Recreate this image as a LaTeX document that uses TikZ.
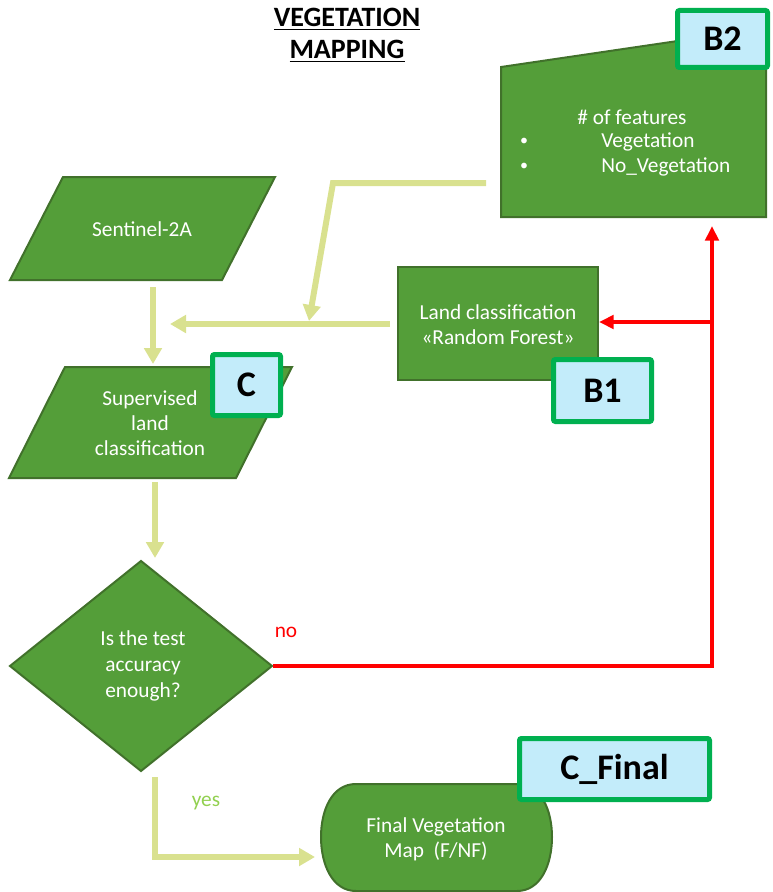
\documentclass[tikz,border=0pt]{standalone}
\usepackage{fontspec}
\setmainfont{Carlito}
\usetikzlibrary{arrows.meta}
\definecolor{boxgreen}{HTML}{549E39}
\definecolor{edgegreen}{HTML}{41712B}
\definecolor{lightline}{HTML}{D9E18F}
\definecolor{labblue}{HTML}{C3ECFA}
\definecolor{labedge}{HTML}{00B050}
\definecolor{yesgreen}{HTML}{92D050}
\begin{document}
\begin{tikzpicture}[x=0.75pt,y=-0.75pt,
  shapebox/.style={fill=boxgreen,draw=edgegreen,line width=1.5pt},
  wtext/.style={text=white,font=\fontsize{16}{18.75}\selectfont,align=center,inner sep=0pt},
  labbox/.style={draw=labedge,fill=labblue,line width=3.75pt,rounded corners=1.5pt,font=\fontsize{27}{30}\selectfont\bfseries,inner sep=0pt},
  lightarrow/.style={draw=lightline,line width=4.5pt,-{Triangle[length=12pt,width=13pt]}},
  redarrow/.style={draw=red,line width=3.2pt,-{Triangle[length=11pt,width=10pt]}}
]
\useasboundingbox (0,0) rectangle (773,892);

% title
\node[font=\fontsize{21}{24}\selectfont\bfseries,align=center,inner sep=0pt] (title) at (347,35) {\underline{VEGETATION}\\\underline{MAPPING}};

% B2 shape
\draw[shapebox] (501,67) -- (766,28) -- (766,217) -- (501,217) -- cycle;
\node[wtext] (feat) at (632,117) {\# of features};
\node[wtext,font=\fontsize{12}{14}\selectfont] (bulA) at (524,142) {•};
\node[wtext,anchor=west] (veg) at (601,142) {Vegetation};
\node[wtext,font=\fontsize{12}{14}\selectfont] (bulB) at (524,167) {•};
\node[wtext,anchor=west] (noveg) at (601,167) {No\_Vegetation};
\node[labbox,minimum width=67.5pt,minimum height=42.75pt] (B2) at (722.5,39) {B2};

% Sentinel
\draw[shapebox] (63,177) -- (275,177) -- (222,280) -- (10,280) -- cycle;
\node[wtext] (sent) at (142,229) {Sentinel-2A};

% Supervised
\draw[shapebox] (65,367) -- (292,367) -- (236,478) -- (9,478) -- cycle;
\node[wtext] (sup) at (150,423) {Supervised\\land\\classification};
\node[labbox,minimum width=51pt,minimum height=45.75pt] (C) at (246.5,385) {C};

% Land classification
\node[shapebox,minimum width=150pt,minimum height=85pt,inner sep=0pt] (land) at (498,323.5) {};
\node[wtext] (landtxt) at (498,324.5) {Land classification\\«Random Forest»};
\node[labbox,minimum width=73.5pt,minimum height=46.5pt] (B1) at (602.5,390.5) {B1};

% Diamond
\draw[shapebox] (10,666) -- (141,561) -- (272,666) -- (141,771) -- cycle;
\node[wtext,font=\fontsize{16}{19.5}\selectfont] (dec) at (143,666) {Is the test\\accuracy\\enough?};

% Final map
\draw[shapebox] (356,784) -- (517,784) .. controls (541,784) and (552,810) .. (552,837)
  .. controls (552,864) and (541,891) .. (517,891) -- (356,891)
  .. controls (332,891) and (321,864) .. (321,837)
  .. controls (321,810) and (332,784) .. (356,784) -- cycle;
\node[wtext] (final) at (436,839) {Final Vegetation\\Map~~(F/NF)};
\node[labbox,minimum width=142.5pt,minimum height=45.75pt] (CF) at (614.5,769) {C\_Final};

% coordinates for connectors
\coordinate (sentB) at (153,287);
\coordinate (supT) at (153,364);
\coordinate (landW) at (390,324);
\coordinate (supR) at (170,324);
\coordinate (b2W) at (486,183);
\coordinate (bendA) at (333,183);
\coordinate (junc) at (309,321);
\coordinate (supB) at (155,482);
\coordinate (decT) at (155,558);
\coordinate (decB) at (155,777);
\coordinate (finW) at (315,857);
\coordinate (decR) at (273,666);
\coordinate (redC) at (712,666);
\coordinate (b2B) at (712,226);
\coordinate (redJ) at (712,322);
\coordinate (landE) at (599,322);

% light connectors
\draw[lightarrow] (sentB) -- (supT);
\draw[lightarrow] (landW) -- (supR);
\draw[lightarrow] (b2W) -- (bendA) -- (junc);
\draw[lightarrow] (supB) -- (decT);
\draw[lightarrow] (decB) |- (finW);

% red connectors
\draw[redarrow] (decR) -- (redC) -- (b2B);
\draw[redarrow] (redJ) -- (landE);

% labels
\node[text=red,font=\fontsize{16}{18}\selectfont,inner sep=0pt] (no) at (286,632) {no};
\node[text=yesgreen,font=\fontsize{16}{18}\selectfont,inner sep=0pt] (yes) at (206,803) {yes};
\end{tikzpicture}
\end{document}
